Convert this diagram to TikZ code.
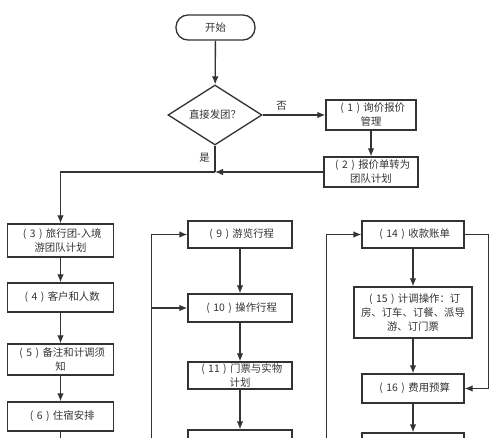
\documentclass[tikz,border=0pt]{standalone}
\usepackage{fontspec}
\newfontfamily\cjk{Noto Sans CJK SC}
\usetikzlibrary{shapes.geometric,arrows.meta}
\definecolor{ink}{HTML}{333333}
\newcommand\sn[1]{\makebox[1em]{(}#1\makebox[1em]{)}}
\begin{document}
\begin{tikzpicture}[x=0.75pt,y=-0.75pt,
    every node/.style={font=\cjk\fontsize{7.8}{10.5}\selectfont,text=ink},
    box/.style 2 args={draw=ink,line width=1pt,align=center,inner sep=0pt,
      minimum width=#1*0.75pt,minimum height=#2*0.75pt},
    line/.style={draw=ink,line width=1pt},
    arr/.style={line,-{Latex[length=6pt,width=5pt]}}]
  \useasboundingbox (0,0) rectangle (500,438);
  \clip (0,0) rectangle (500,438);
  % top
  \node [box={79}{25},rounded corners=9pt] (start) at (215.5,27.5) {开始};
  \node [draw=ink,line width=1pt,diamond,inner sep=0pt,aspect=1.57,
    minimum width=94*0.75pt,minimum height=60*0.75pt] (ask) at (215,115) {直接发团？};
  \node [box={90}{30}]  (b1) at (371,115)   {\sn{1}询价报价\\管理};
  \node [box={94}{30}]  (b2) at (371,172)   {\sn{2}报价单转为\\团队计划};
  % left column
  \node [box={106}{33}] (b3) at (60.5,240.5) {\sn{3}旅行团-入境\\游团队计划};
  \node [box={106}{29}] (b4) at (60.5,297.5) {\sn{4}客户和人数};
  \node [box={106}{31}] (b5) at (60.5,359.5) {\sn{5}备注和计调须\\知};
  \node [box={106}{29}] (b6) at (60.5,416.5) {\sn{6}住宿安排};
  \coordinate (c7) at (60.5,450);
  % middle column
  \node [box={104}{27}] (b9)  at (240,234.5) {\sn{9}游览行程};
  \node [box={104}{28}] (b10) at (240,308)   {\sn{10}操作行程};
  \node [box={104}{27}] (b11) at (240,375.5) {\sn{11}门票与实物\\计划};
  \node [box={104}{40}] (b12) at (240,450)   {};
  \coordinate (m0) at (151.5,450);
  % right column
  \node [box={102}{27}] (b14) at (413,234.5) {\sn{14}收款账单};
  \node [box={118}{51}] (b15) at (413,312.5) {\sn{15}计调操作：订\\房、订车、订餐、派导\\游、订门票};
  \node [box={102}{29}] (b16) at (413,388.5) {\sn{16}费用预算};
  \node [box={102}{40}] (b17) at (413,453)   {};
  \coordinate (r0) at (326.5,450);
  % connectors
  \draw [arr] (start) -- (ask);
  \draw [arr] (ask) -- node [above,pos=0.3] {否} (b1);
  \draw [arr] (b1) -- (b2);
  \coordinate (join) at (ask.south |- b2.west);
  \draw [arr] (b2.west) -- (join);
  \draw [line] (ask.south) -- node [left,pos=0.45] {是} (join);
  \draw [arr] (join) -| (b3.north);
  \draw [arr] (b3) -- (b4);
  \draw [arr] (b4) -- (b5);
  \draw [arr] (b5) -- (b6);
  \draw [line] (b6) -- (c7);
  \draw [arr] (m0) |- (b9.west);
  \draw [arr] (m0 |- b10.west) -- (b10.west);
  \draw [arr] (b9) -- (b10);
  \draw [arr] (b10) -- (b11);
  \draw [arr] (b11) -- (b12);
  \draw [arr] (r0) |- (b14.west);
  \draw [arr] (b14.east) -- ++(23.5,0) |- (b16.east);
  \draw [arr] (b14) -- (b15);
  \draw [arr] (b15) -- (b16);
  \draw [arr] (b16) -- (b17);
\end{tikzpicture}
\end{document}
